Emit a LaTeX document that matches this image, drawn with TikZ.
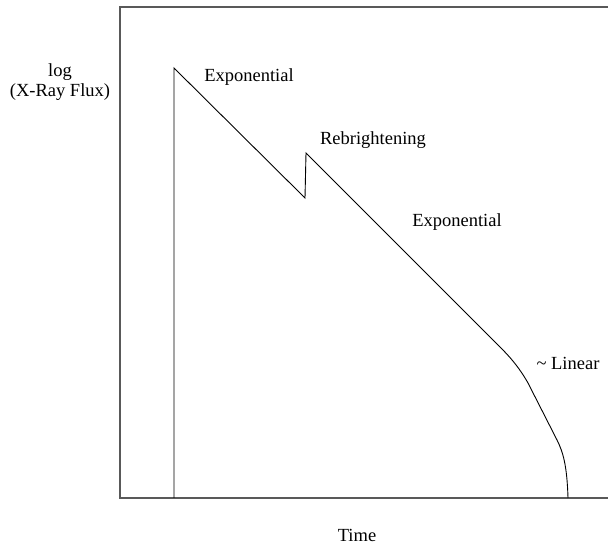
\documentclass[tikz,border=0pt]{standalone}
\usepackage{fontspec}
\setmainfont{Liberation Serif}
\usetikzlibrary{positioning}
\tikzset{
  frameLine/.style={draw=black!65, line width=1.3pt},
  curveLine/.style={draw=black, line width=0.9pt, line join=miter},
  plotText/.style={inner sep=0pt, align=center, font=\fontsize{18.5}{20}\selectfont}
}

\begin{document}
\begin{tikzpicture}[x=1pt, y=1pt]
\useasboundingbox (0,0) rectangle (608,546);
% axes frame, open on the right
\draw[frameLine] (608,539) -- (120,539) -- (120,48) -- (608,48);
% light curve points
\coordinate (burstFoot) at (174,48);
\coordinate (burstPeak) at (174,478);
\coordinate (dipLow) at (305,348);
\coordinate (dipHigh) at (306,393);
\coordinate (bendStart) at (490,209);
\coordinate (bendEnd) at (528,163);
\coordinate (dropStart) at (557,106);
\coordinate (curveEnd) at (568,48);
\draw[curveLine] (burstFoot) -- (burstPeak) -- (dipLow) -- (dipHigh) -- (bendStart)
  .. controls (505,194) and (516,184) .. (bendEnd) -- (dropStart)
  .. controls (563,94) and (567,81) .. (curveEnd);
% labels
\node[plotText] (fluxLabel) at (60,464) {log\\(X-Ray Flux)};
\node[plotText] (expOne) at (249,469) {Exponential};
\node[plotText] (rebright) at (373,406) {Rebrightening};
\node[plotText] (expTwo) at (457,324) {Exponential};
\node[plotText] (linearLabel) at (568,183) {\textasciitilde{} Linear};
\node[plotText] (timeLabel) at (357,11) {Time};
\end{tikzpicture}
\end{document}
